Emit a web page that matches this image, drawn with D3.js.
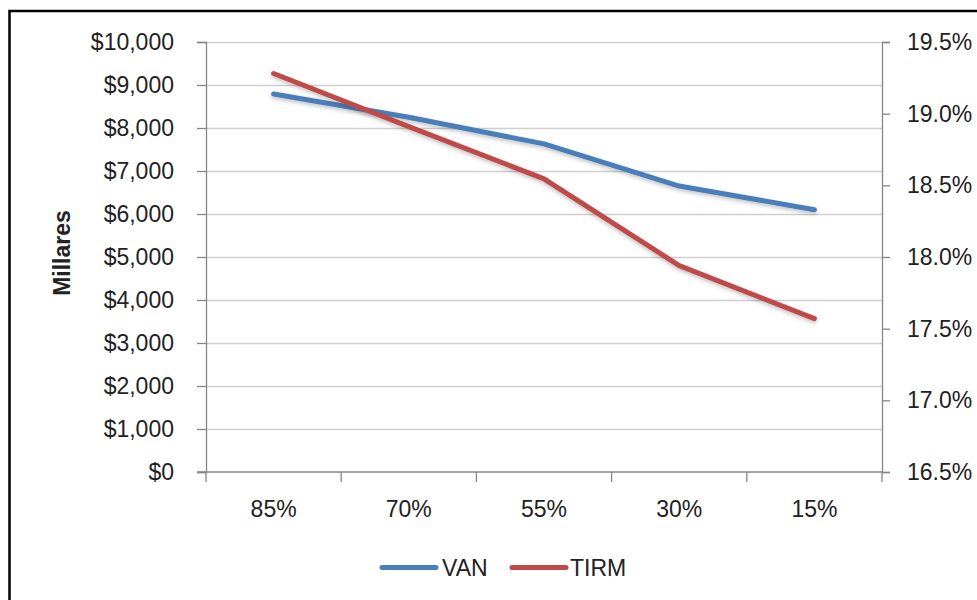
<!DOCTYPE html>
<html><head><meta charset="utf-8">
<script src="https://cdn.jsdelivr.net/npm/d3@7"></script>
<style>body{margin:0;background:#fff}svg{display:block}text{font-family:"Liberation Sans",Arial,sans-serif;fill:#222}</style>
</head><body>
<svg id="c" width="977" height="600"></svg>
<script>
const categories = ["85%", "70%", "55%", "30%", "15%"];
const vanValues = [8790, 8250, 7630, 6650, 6100];
const tirmValues = [19.28, 18.91, 18.545, 17.94, 17.57];
const leftTicks = [0,1000,2000,3000,4000,5000,6000,7000,8000,9000,10000];
const rightTicks = [16.5,17.0,17.5,18.0,18.5,19.0,19.5];
const seriesNames = ["VAN", "TIRM"];
const colors = ["#4a7ebb", "#be4b48"];

const svg = d3.select("#c");
const m = {l:206, r:882, t:42, b:472};
const fs = 23;

const defs = svg.append("defs");
const f = defs.append("filter").attr("id","sh").attr("x","-10%").attr("y","-30%").attr("width","120%").attr("height","160%");
f.append("feDropShadow").attr("dx",0).attr("dy",2).attr("stdDeviation",2).attr("flood-opacity",0.25);

svg.append("rect").attr("x",9.5).attr("y",11).attr("width",1000).attr("height",700)
  .attr("fill","none").attr("stroke","#000").attr("stroke-width",2.5);

const x = d3.scaleBand().domain(categories).range([m.l,m.r]);
const yL = d3.scaleLinear().domain([0,10000]).range([m.b,m.t]);
const yR = d3.scaleLinear().domain([16.5,19.5]).range([m.b,m.t]);

// gridlines
svg.append("g").selectAll("line").data(leftTicks.slice(1)).join("line")
  .attr("x1",m.l).attr("x2",m.r).attr("y1",d=>yL(d)+0.5).attr("y2",d=>yL(d)+0.5)
  .attr("stroke","#d0d0d0").attr("stroke-width",1.3);

const fmtL = d => "$" + d3.format(",")(d);
const gL = svg.append("g").attr("transform",`translate(${m.l},0)`)
  .call(d3.axisLeft(yL).tickValues(leftTicks).tickFormat(fmtL).tickSize(9).tickPadding(23));
const gR = svg.append("g").attr("transform",`translate(${m.r},0)`)
  .call(d3.axisRight(yR).tickValues(rightTicks).tickFormat(d=>d3.format(".1f")(d)+"%").tickSize(8).tickPadding(17));
const gX = svg.append("g").attr("transform",`translate(0,${m.b})`)
  .call(d3.axisBottom(x).tickSize(0).tickPadding(29));
// category boundary ticks
const bounds = categories.map(c=>x(c)).concat([m.r]);
svg.append("g").selectAll("line").data(bounds).join("line")
  .attr("x1",d=>d).attr("x2",d=>d).attr("y1",m.b).attr("y2",m.b+10)
  .attr("stroke","#868686").attr("stroke-width",1.3);
gX.select(".domain").attr("d",`M${m.l-9},0H${m.r}`);

[gL,gR,gX].forEach(g=>{
  g.selectAll(".domain").attr("stroke","#868686").attr("stroke-width",1.3);
  g.selectAll(".tick line").attr("stroke","#868686").attr("stroke-width",1.3);
  g.selectAll("text").attr("font-size",fs).attr("font-family","Liberation Sans, Arial, sans-serif").attr("fill","#222");
});

svg.append("text").attr("transform","translate(62,253) rotate(-90)").attr("text-anchor","middle")
  .attr("dominant-baseline","central").attr("font-weight","bold").attr("font-size",fs).text("Millares");

const cx = c => x(c) + x.bandwidth()/2;
const lineL = d3.line().x((d,i)=>cx(categories[i])).y(d=>yL(d));
const lineR = d3.line().x((d,i)=>cx(categories[i])).y(d=>yR(d));
svg.append("path").datum(vanValues).attr("d",lineL).attr("fill","none").attr("stroke",colors[0])
  .attr("stroke-width",5).attr("stroke-linecap","round").attr("stroke-linejoin","round").attr("filter","url(#sh)");
svg.append("path").datum(tirmValues).attr("d",lineR).attr("fill","none").attr("stroke",colors[1])
  .attr("stroke-width",5).attr("stroke-linecap","round").attr("stroke-linejoin","round").attr("filter","url(#sh)");

// legend
const leg = [{x1:382,x2:436,tx:442},{x1:512,x2:566,tx:570}];
leg.forEach((l,i)=>{
  svg.append("line").attr("x1",l.x1).attr("x2",l.x2).attr("y1",567.5).attr("y2",567.5)
    .attr("stroke",colors[i]).attr("stroke-width",5).attr("stroke-linecap","round");
  svg.append("text").attr("x",l.tx).attr("y",567.5).attr("dominant-baseline","central")
    .attr("font-size",fs).text(seriesNames[i]);
});
</script>
</body></html>
